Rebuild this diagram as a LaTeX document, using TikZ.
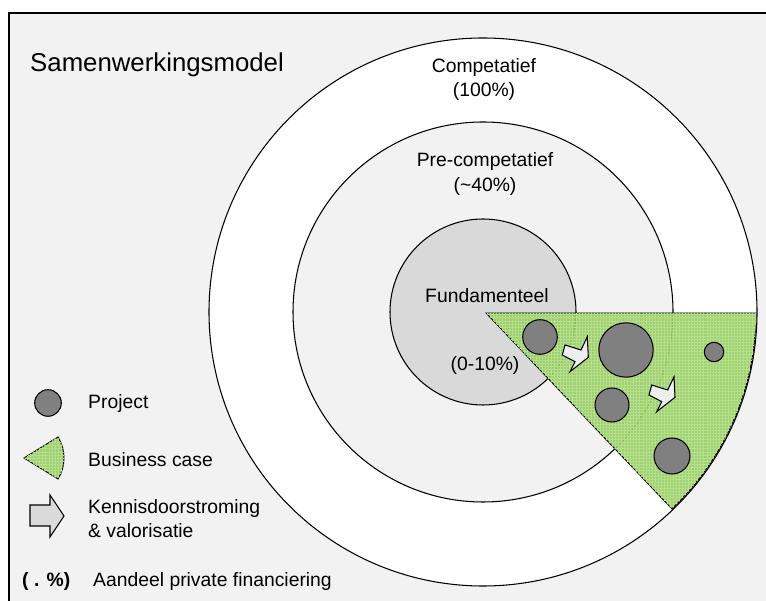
\documentclass[tikz,border=0pt]{standalone}
\usepackage{fontspec}
\setmainfont{Liberation Sans}
\usepackage{tikz}
\usetikzlibrary{patterns.meta}
\definecolor{Panel}{HTML}{F2F2F2}
\definecolor{CoreGray}{HTML}{D9D9D9}
\definecolor{ProjectGray}{HTML}{808080}
\definecolor{CaseGreen}{HTML}{96CC62}
\definecolor{CaseGrid}{HTML}{B6DF8E}
\definecolor{FlowLight}{HTML}{EEEEEE}
\definecolor{FlowGray}{HTML}{DADADA}
\tikzset{
  ring/.style={draw=black, line width=0.9pt},
  lbl/.style={font=\fontsize{16.5}{20.5}\selectfont, align=center, inner sep=0pt},
  legendtxt/.style={lbl, align=left, anchor=base west},
  project/.style={draw=black, line width=0.9pt, fill=ProjectGray},
  bcase/.style={draw=black, line width=0.8pt, fill=CaseGreen, fill opacity=0.9,
    postaction={pattern={Hatch[distance=2.6pt, angle=0, line width=0.35pt]}, pattern color=CaseGrid}},
  flow/.style={draw=black, line width=0.9pt, fill=FlowLight, line join=miter},
  flowarrow/.pic={
    \draw[flow] (0,0) -- (16,-5) -- (22.3,8.3) -- (23.3,-12.3) -- (5,-26.7)
      -- (10,-16.7) -- (-2.7,-10) -- cycle;
  },
}

\begin{document}
\begin{tikzpicture}[x=0.03cm, y=0.03cm]
\useasboundingbox[fill=white] (0,0) rectangle (766,601);

% panel with its top and left rule
\fill[Panel] (9,0) rectangle (766,588);
\draw[line width=1.1pt] (9,0) -- (9,588) -- (766,588);

\node[anchor=base west, inner sep=0pt, font=\fontsize{22}{26}\selectfont] (title) at (30,529) {Samenwerkingsmodel};

% rings
\coordinate (core) at (483,289);
\draw[ring, fill=white] (core) circle[radius=274];
\draw[ring, fill=Panel] (core) circle[radius=190];
\draw[ring, fill=CoreGray] (core) circle[radius=93];

\node[lbl] (comp) at (484,521) {Competatief\\(100\%)};
\node[lbl] (precomp) at (485,427) {Pre-competatief\\(\textasciitilde40\%)};
\node[lbl] (fund) at (487,305) {Fundamenteel};
\node[lbl] (fundpct) at (485,235) {(0-10\%)};

% business case slice
\coordinate (apex) at (486,288);
\draw[bcase] (apex) -- ++(0:270) arc[start angle=0, end angle=-46.5, radius=270] -- cycle;

% projects
\draw[project] (540,264) circle[radius=17.3];
\draw[project] (626,251) circle[radius=27.2];
\draw[project] (714,249) circle[radius=9.7];
\draw[project] (612,196) circle[radius=17];
\draw[project] (672,145) circle[radius=18];

\pic (flowA) at (565,256) {flowarrow};
\pic (flowB) at (651.7,216) {flowarrow};

% legend
\draw[project] (48,198) circle[radius=13.3];
\node[legendtxt] (lproject) at (88,192) {Project};

\draw[bcase] (24,143) -- ++(31.7:40) arc[start angle=31.7, end angle=-31.7, radius=40] -- cycle;
\node[legendtxt] (lcase) at (88,134) {Business case};

\draw[flow, fill=FlowGray] (30,96) -- (50,96) -- (50,106) -- (64,85) -- (50,64) -- (50,75) -- (30,75) -- cycle;
\node[legendtxt] (lflow) at (88,63) {Kennisdoorstroming\\\& valorisatie};

\node[legendtxt, font=\fontsize{16.5}{20.5}\selectfont\bfseries] (lpct) at (22,14) {( . \%)};
\node[legendtxt] (lprivate) at (93,14) {Aandeel private financiering};

\end{tikzpicture}
\end{document}
